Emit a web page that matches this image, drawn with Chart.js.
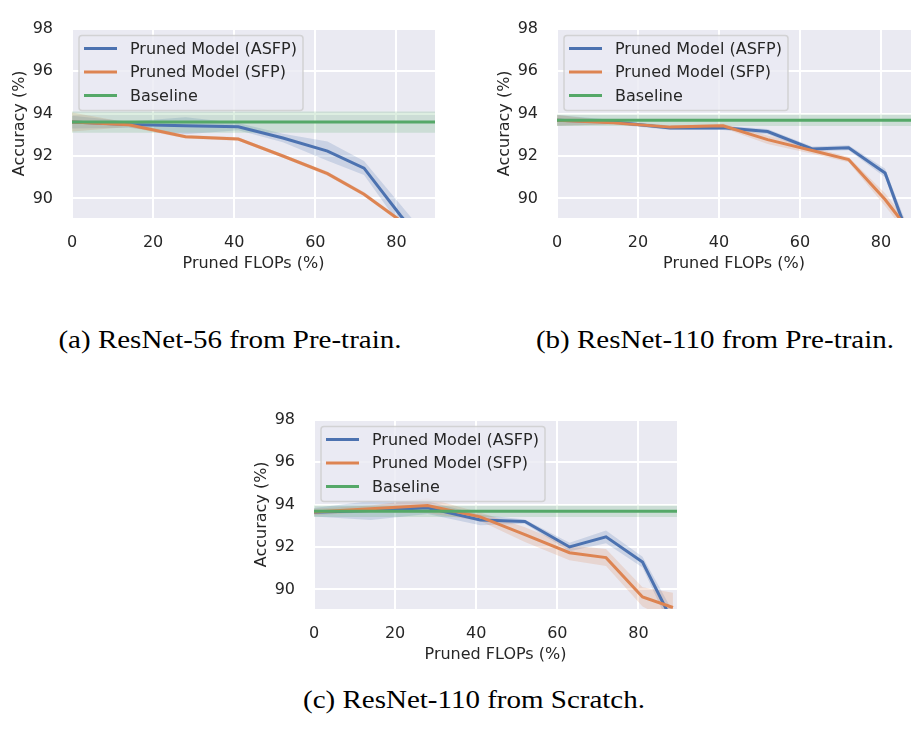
<!DOCTYPE html>
<html>
<head>
<meta charset="utf-8">
<script src="https://cdn.jsdelivr.net/npm/chart.js@4.4.1/dist/chart.umd.min.js"></script>
<style>
  body { margin: 0; background: #fff; width: 911px; height: 744px; overflow: hidden; position: relative; }
  .panel { position: absolute; }
  .caption {
    position: absolute; width: 500px; text-align: center; white-space: nowrap;
    font-family: "Liberation Serif", serif; font-size: 25px; line-height: 30px; color: #000;
    transform: scaleX(1.16); transform-origin: center;
  }
</style>
</head>
<body>
<div class="panel" style="left:0px;top:0px;width:460px;height:280px"><canvas id="chartA"></canvas></div>
<div class="panel" style="left:485px;top:0px;width:426px;height:280px"><canvas id="chartB"></canvas></div>
<div class="panel" style="left:242px;top:391px;width:460px;height:280px"><canvas id="chartC"></canvas></div>
<div class="caption" style="left:-20px;top:325px">(a) ResNet-56 from Pre-train.</div>
<div class="caption" style="left:465px;top:325px">(b) ResNet-110 from Pre-train.</div>
<div class="caption" style="left:224px;top:685px">(c) ResNet-110 from Scratch.</div>
<script>
// shared axes
const flopsPruned = [0, 14, 28, 41, 52, 63, 72, 81, 88.5];
const xTickValues = [0, 20, 40, 60, 80];
const yTickValues = [90, 92, 94, 96, 98];
const seriesLabels = ['Pruned Model (ASFP)', 'Pruned Model (SFP)', 'Baseline'];

// (a) ResNet-56 from Pre-train
const r56PreAsfp = [93.6, 93.48, 93.42, 93.38, 92.85, 92.23, 91.43, 89.2, 87.5];
const r56PreAsfpStd = [0.3, 0.15, 0.4, 0.17, 0.2, 0.45, 0.33, 0.5, 0.5];
const r56PreSfp = [93.6, 93.47, 92.91, 92.8, 92.0, 91.17, 90.2, 88.95, 87.8];
const r56PreSfpStd = [0.45, 0.1, 0.08, 0.08, 0.08, 0.1, 0.1, 0.1, 0.1];
const r56PreBase = 93.6, r56PreBaseStd = 0.5;

// (b) ResNet-110 from Pre-train
const r110PreAsfp = [93.68, 93.6, 93.32, 93.33, 93.15, 92.33, 92.39, 91.2, 87.3];
const r110PreAsfpStd = [0.25, 0.1, 0.1, 0.1, 0.12, 0.12, 0.12, 0.2, 0.4];
const r110PreSfp = [93.68, 93.56, 93.36, 93.42, 92.77, 92.26, 91.83, 89.95, 88.1];
const r110PreSfpStd = [0.25, 0.08, 0.08, 0.1, 0.2, 0.15, 0.12, 0.3, 0.3];
const r110PreBase = 93.68, r110PreBaseStd = 0.27;

// (c) ResNet-110 from Scratch
const r110ScrAsfp = [93.64, 93.72, 93.85, 93.27, 93.2, 92.0, 92.48, 91.29, 88.45];
const r110ScrAsfpStd = [0.2, 0.45, 0.3, 0.25, 0.1, 0.2, 0.3, 0.25, 0.5];
const r110ScrSfp = [93.65, 93.8, 93.95, 93.42, 92.58, 91.73, 91.5, 89.65, 89.15];
const r110ScrSfpStd = [0.15, 0.15, 0.35, 0.2, 0.35, 0.35, 0.4, 0.45, 0.7];
const r110ScrBase = 93.68, r110ScrBaseStd = 0.27;

const BLUE = '#4C72B0', ORANGE = '#DD8452', GREEN = '#55A868';
const TEXT = '#262626';

Chart.defaults.font.family = '"DejaVu Sans", sans-serif';
Chart.defaults.font.size = 16;
Chart.defaults.color = TEXT;

// grey seaborn background behind the plot
const plotBg = {
  id: 'plotBg',
  beforeDraw(chart) {
    const { ctx, chartArea: a } = chart;
    ctx.save();
    ctx.fillStyle = '#EAEAF2';
    ctx.fillRect(a.left, a.top, a.right - a.left, a.bottom - a.top);
    ctx.restore();
  }
};

// legend box drawn inside the plot, upper left
const boxLegend = {
  id: 'boxLegend',
  afterDraw(chart) {
    const { ctx, chartArea: a } = chart;
    const x = a.left + 7, y = a.top + 7, w = 224, h = 75;
    ctx.save();
    ctx.beginPath();
    ctx.roundRect(x, y, w, h, 3);
    ctx.fillStyle = 'rgba(234,234,242,0.8)';
    ctx.fill();
    ctx.strokeStyle = 'rgba(204,204,204,0.8)';
    ctx.lineWidth = 1.5;
    ctx.stroke();
    ctx.font = '16px "DejaVu Sans"';
    ctx.textBaseline = 'middle';
    [2, 1, 0].forEach((idx, row) => {
      const ds = chart.data.datasets[idx];
      const ry = y + 13 + row * 23.5;
      ctx.beginPath();
      ctx.moveTo(x + 5, ry);
      ctx.lineTo(x + 38, ry);
      ctx.strokeStyle = ds.borderColor;
      ctx.lineWidth = 3;
      ctx.stroke();
      ctx.fillStyle = TEXT;
      ctx.fillText(ds.label, x + 51, ry + 1);
    });
    ctx.restore();
  }
};

function rgba(hex, a) {
  const n = parseInt(hex.slice(1), 16);
  return 'rgba(' + (n >> 16) + ',' + ((n >> 8) & 255) + ',' + (n & 255) + ',' + a + ')';
}

function drawPanel(id, asfp, asfpStd, sfp, sfpStd, base, baseStd, xMax, padRight) {
  const band = (vals, std, sign) => flopsPruned.map((x, i) => ({ x: x, y: vals[i] + sign * std[i] }));
  const flat = v => [{ x: 0, y: v }, { x: xMax, y: v }];
  const line = (label, color, data) => ({
    label: label, data: data, borderColor: color, borderWidth: 3,
    pointRadius: 0, fill: false, tension: 0
  });
  const edge = (data, color, fill) => ({
    data: data, borderColor: 'rgba(0,0,0,0)', borderWidth: 0, pointRadius: 0,
    backgroundColor: rgba(color, 0.2), fill: fill, tension: 0
  });

  new Chart(document.getElementById(id), {
    type: 'line',
    data: {
      datasets: [
        line(seriesLabels[2], GREEN, flat(base)),
        line(seriesLabels[1], ORANGE, band(sfp, sfpStd, 0)),
        line(seriesLabels[0], BLUE, band(asfp, asfpStd, 0)),
        edge(flat(base + baseStd), GREEN, false),
        edge(flat(base - baseStd), GREEN, '-1'),
        edge(band(sfp, sfpStd, 1), ORANGE, false),
        edge(band(sfp, sfpStd, -1), ORANGE, '-1'),
        edge(band(asfp, asfpStd, 1), BLUE, false),
        edge(band(asfp, asfpStd, -1), BLUE, '-1')
      ]
    },
    options: {
      responsive: true,
      maintainAspectRatio: false,
      animation: false,
      layout: { padding: { top: 14, right: padRight, left: 0, bottom: 0 } },
      plugins: { legend: { display: false }, tooltip: { enabled: false } },
      scales: {
        x: {
          type: 'linear', min: 0, max: xMax,
          afterBuildTicks: s => { s.ticks = xTickValues.map(v => ({ value: v })); },
          afterFit: s => { s.height = 62; },
          ticks: { padding: 15, callback: v => String(v) },
          grid: { color: '#fff', lineWidth: 2, drawTicks: false },
          border: { display: false },
          title: { display: true, text: 'Pruned FLOPs (%)', padding: { top: 0, bottom: 7 } }
        },
        y: {
          min: 89.08, max: 98,
          afterBuildTicks: s => { s.ticks = yTickValues.map(v => ({ value: v })); },
          afterFit: s => { s.width = 72; },
          ticks: { padding: 19, callback: v => String(v) },
          grid: { color: '#fff', lineWidth: 2, drawTicks: false },
          border: { display: false },
          title: { display: true, text: 'Accuracy (%)', padding: { top: 10, bottom: 0 } }
        }
      }
    },
    plugins: [plotBg, boxLegend]
  });
}

drawPanel('chartA', r56PreAsfp, r56PreAsfpStd, r56PreSfp, r56PreSfpStd, r56PreBase, r56PreBaseStd, 89.5, 25);
drawPanel('chartB', r110PreAsfp, r110PreAsfpStd, r110PreSfp, r110PreSfpStd, r110PreBase, r110PreBaseStd, 87.4, 0);
drawPanel('chartC', r110ScrAsfp, r110ScrAsfpStd, r110ScrSfp, r110ScrSfpStd, r110ScrBase, r110ScrBaseStd, 89.5, 25);
</script>
</body>
</html>
